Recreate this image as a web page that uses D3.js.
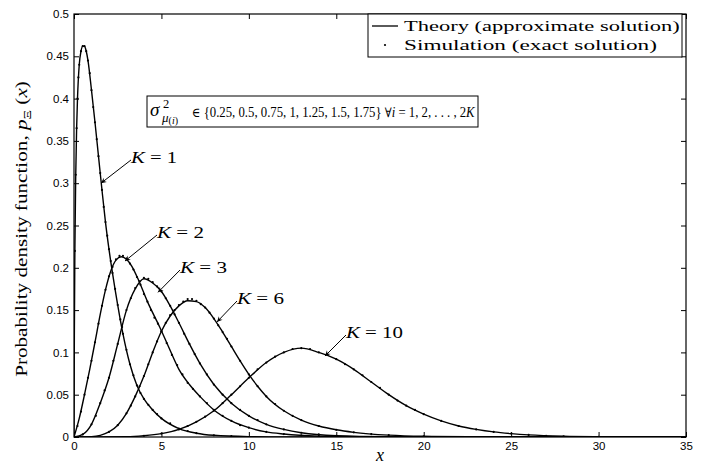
<!DOCTYPE html>
<html><head><meta charset="utf-8">
<script src="https://cdn.jsdelivr.net/npm/d3@7"></script>
<style>body{margin:0;background:#fff}svg{display:block}</style>
</head><body>
<svg id="c" width="711" height="464"></svg>
<script>
// ---------------- data ----------------
const xTicks = [0, 5, 10, 15, 20, 25, 30, 35];
const yTicks = [0, 0.05, 0.1, 0.15, 0.2, 0.25, 0.3, 0.35, 0.4, 0.45, 0.5];
const yTickLabels = ["0", "0.05", "0.1", "0.15", "0.2", "0.25", "0.3", "0.35", "0.4", "0.45", "0.5"];
const xTickLabels = ["0", "5", "10", "15", "20", "25", "30", "35"];

const legendLabels = ["Theory (approximate solution)", "Simulation (exact solution)"];
const kNames = ["1", "2", "3", "6", "10"];
// annotation arrows (data coordinates): head on curve, label anchor
const kHeadX = [1.544, 2.917, 4.804, 8.178, 14.354];
const kHeadY = [0.300, 0.208, 0.171, 0.136, 0.0957];
const kTextX = [3.26, 4.747, 6.062, 9.322, 15.555];
const kTextY = [0.331, 0.2423, 0.2009, 0.1643, 0.1241];

const theoryK1 = [[0,0],[0.02,0.12],[0.05,0.22],[0.1,0.31],[0.15,0.365],[0.2,0.4],[0.3,0.44],[0.4,0.456],[0.5,0.462],[0.6,0.462],[0.7,0.456],[0.8,0.445],[1.0,0.41],[1.2,0.372],[1.4,0.332],[1.6,0.292],[1.8,0.254],[2.0,0.222],[2.2,0.194],[2.5,0.156],[2.8,0.122],[3.2,0.086],[3.6,0.061],[4.0,0.045],[4.5,0.032],[5,0.022],[6,0.01],[7,0.0045],[8,0.002],[10,0.0004],[12,0],[35,0]];
const theoryK2 = [[0,0],[0.3,0.022],[0.6,0.05],[0.9,0.08],[1.2,0.112],[1.5,0.145],[1.8,0.174],[2.1,0.196],[2.4,0.209],[2.7,0.213],[3.0,0.21],[3.3,0.202],[3.7,0.185],[4.2,0.16],[4.9,0.13],[5.4,0.107],[6.0,0.08],[6.6,0.062],[7.2,0.048],[8.0,0.032],[9.0,0.019],[10,0.011],[11,0.006],[12,0.0035],[14,0.001],[16,0.0003],[20,0],[35,0]];
const theoryK3 = [[0,0],[0.5,0.003],[1,0.015],[1.5,0.04],[2,0.07],[2.5,0.11],[3,0.15],[3.5,0.175],[4,0.187],[4.5,0.182],[5,0.172],[5.5,0.155],[6,0.135],[6.6,0.11],[7.2,0.087],[8,0.062],[9,0.04],[10,0.025],[11,0.015],[12,0.009],[13,0.005],[15,0.0015],[18,0.0003],[22,0],[35,0]];
const theoryK6 = [[0,0],[1,0.0005],[1.5,0.002],[2,0.006],[2.5,0.014],[3,0.028],[3.5,0.048],[4,0.072],[4.5,0.1],[5,0.125],[5.5,0.143],[6,0.155],[6.5,0.161],[7,0.16],[7.5,0.153],[8,0.14],[8.5,0.124],[9,0.107],[9.5,0.09],[10,0.074],[10.5,0.06],[11,0.048],[12,0.031],[13,0.02],[14,0.013],[15,0.0085],[16,0.0055],[18,0.0022],[20,0.0008],[23,0.0002],[26,0],[35,0]];
const theoryK10 = [[0,0],[3,0.0003],[4,0.0015],[5,0.004],[6,0.009],[7,0.018],[8,0.031],[9,0.05],[10,0.07],[11,0.088],[12,0.1],[13,0.105],[14,0.1],[15,0.092],[16,0.08],[17,0.065],[18,0.05],[19,0.037],[20,0.027],[21,0.019],[22,0.013],[23,0.009],[24,0.006],[25,0.004],[26,0.0025],[28,0.0009],[30,0.0003],[33,0],[35,0]];

const simK1 = [[0.05,0.22],[0.1,0.31],[0.15,0.365],[0.2,0.4],[0.25,0.425],[0.3,0.44],[0.4,0.456],[0.5,0.462],[0.6,0.462],[0.7,0.456],[0.8,0.445],[0.9,0.43],[1.0,0.41],[1.1,0.39],[1.2,0.372],[1.3,0.352],[1.4,0.332],[1.5,0.312],[1.6,0.292],[1.7,0.272],[1.8,0.254],[1.9,0.238],[2.0,0.222],[2.1,0.208],[2.2,0.194],[2.35,0.175],[2.5,0.156],[2.65,0.139],[2.8,0.122],[3.0,0.103],[3.2,0.086],[3.4,0.073],[3.6,0.061],[3.8,0.052],[4.0,0.045],[4.25,0.038],[4.5,0.032],[4.75,0.027],[5,0.022],[5.5,0.016],[6,0.01],[6.5,0.007],[7,0.0045],[8,0.002],[9,0.001]];
const simK2 = [[0.2,0.013],[0.4,0.03],[0.6,0.05],[0.8,0.07],[1.0,0.09],[1.2,0.112],[1.4,0.134],[1.6,0.155],[1.8,0.174],[2.0,0.19],[2.2,0.201],[2.4,0.21],[2.6,0.214],[2.8,0.214],[3.0,0.211],[3.2,0.205],[3.4,0.198],[3.6,0.189],[3.8,0.18],[4.0,0.169],[4.2,0.16],[4.4,0.15],[4.6,0.141],[4.8,0.134],[5.0,0.125],[5.3,0.111],[5.6,0.097],[5.9,0.085],[6.2,0.074],[6.5,0.064],[6.8,0.057],[7.2,0.048],[7.6,0.04],[8.0,0.032],[8.5,0.025],[9,0.019],[9.5,0.014],[10,0.011],[11,0.006],[12,0.0035],[13,0.002],[14,0.001]];
const simK3 = [[0.5,0.003],[1.0,0.015],[1.25,0.025],[1.5,0.04],[1.75,0.055],[2.0,0.07],[2.25,0.09],[2.5,0.11],[2.75,0.13],[3.0,0.15],[3.25,0.164],[3.5,0.176],[3.75,0.184],[4.0,0.188],[4.25,0.187],[4.5,0.183],[4.75,0.178],[5.0,0.172],[5.25,0.164],[5.5,0.155],[5.75,0.145],[6.0,0.135],[6.3,0.122],[6.6,0.11],[6.9,0.098],[7.2,0.087],[7.6,0.074],[8.0,0.062],[8.5,0.05],[9,0.04],[9.5,0.032],[10,0.025],[10.5,0.02],[11,0.015],[12,0.009],[13,0.005],[14,0.003],[15,0.0015]];
const simK6 = [[2.0,0.006],[2.5,0.014],[3.0,0.028],[3.25,0.037],[3.5,0.048],[3.75,0.06],[4.0,0.072],[4.25,0.086],[4.5,0.1],[4.75,0.113],[5.0,0.125],[5.25,0.135],[5.5,0.144],[5.75,0.15],[6.0,0.156],[6.25,0.16],[6.5,0.163],[6.75,0.163],[7.0,0.161],[7.25,0.157],[7.5,0.153],[7.75,0.147],[8.0,0.14],[8.25,0.132],[8.5,0.124],[8.75,0.116],[9.0,0.107],[9.5,0.09],[10,0.074],[10.5,0.06],[11,0.048],[11.5,0.039],[12,0.031],[12.5,0.025],[13,0.02],[14,0.013],[15,0.0085],[16,0.0055],[17,0.0035],[18,0.0022],[20,0.0008]];
const simK10 = [[4,0.0015],[5,0.004],[6,0.009],[6.5,0.013],[7,0.018],[7.5,0.024],[8,0.031],[8.5,0.04],[9,0.05],[9.5,0.06],[10,0.07],[10.5,0.08],[11,0.088],[11.5,0.095],[12,0.1],[12.5,0.104],[13,0.105],[13.5,0.104],[14,0.1],[14.5,0.097],[15,0.092],[15.5,0.086],[16,0.08],[16.5,0.073],[17,0.065],[17.5,0.058],[18,0.05],[18.5,0.043],[19,0.037],[19.5,0.032],[20,0.027],[21,0.019],[22,0.013],[23,0.009],[24,0.006],[25,0.004],[26,0.0025],[27,0.0015],[28,0.0009],[30,0.0003]];

const theorySeries = [theoryK1, theoryK2, theoryK3, theoryK6, theoryK10];
const simSeries = [simK1, simK2, simK3, simK6, simK10];

// ---------------- layout ----------------
const W = 711, H = 464;
const L = 74, R = 686, T = 14, B = 437;
const serif = "'Liberation Serif','Times New Roman',serif";
const symf = "'DejaVu Serif','DejaVu Sans',serif";
const sans = "'Liberation Sans',Arial,Helvetica,sans-serif";

const svg = d3.select("#c");
svg.append("rect").attr("width", W).attr("height", H).attr("fill", "#fff");

const x = d3.scaleLinear().domain([0, 35]).range([L, R]);
const y = d3.scaleLinear().domain([0, 0.5]).range([B, T]);

svg.append("clipPath").attr("id", "clip").append("rect")
  .attr("x", L).attr("y", T - 1).attr("width", R - L).attr("height", B - T + 1);

// axes
function styleAxis(g) {
  g.select(".domain").remove();
  g.selectAll("line").attr("stroke", "#000").attr("stroke-width", 1);
  g.selectAll("text").attr("font-family", sans).attr("font-size", 11.5).attr("fill", "#000");
}
svg.append("g").attr("transform", `translate(0,${B})`)
  .call(d3.axisBottom(x).tickValues(xTicks).tickFormat((d, i) => xTickLabels[i]).tickSizeInner(-5).tickSizeOuter(0).tickPadding(5))
  .call(styleAxis);
svg.append("g").attr("transform", `translate(${L},0)`)
  .call(d3.axisLeft(y).tickValues(yTicks).tickFormat((d, i) => yTickLabels[i]).tickSizeInner(-5).tickSizeOuter(0).tickPadding(5))
  .call(styleAxis);
svg.append("g").attr("transform", `translate(0,${T})`)
  .call(d3.axisTop(x).tickValues(xTicks).tickFormat("").tickSizeInner(-5).tickSizeOuter(0))
  .call(styleAxis);
svg.append("g").attr("transform", `translate(${R},0)`)
  .call(d3.axisRight(y).tickValues(yTicks).tickFormat("").tickSizeInner(-5).tickSizeOuter(0))
  .call(styleAxis);

// curves
const plot = svg.append("g").attr("clip-path", "url(#clip)");
const line = d3.line().x(d => x(d[0])).y(d => y(d[1])).curve(d3.curveMonotoneX);
plot.selectAll("path.theory").data(theorySeries).join("path")
  .attr("class", "theory").attr("d", line)
  .attr("fill", "none").attr("stroke", "#000").attr("stroke-width", 1.4);
simSeries.forEach(s => {
  plot.append("g").selectAll("circle").data(s).join("circle")
    .attr("cx", d => x(d[0])).attr("cy", d => y(d[1])).attr("r", 1.1).attr("fill", "#000");
});

// frame
svg.append("rect").attr("x", L).attr("y", T).attr("width", R - L).attr("height", B - T)
  .attr("fill", "none").attr("stroke", "#000").attr("stroke-width", 1.2);

// stretch a text horizontally (along its own baseline) to a target width
function placeStretched(sel, w, tx, ty, rot) {
  const len = sel.node().getComputedTextLength();
  const k = w / len;
  sel.attr("transform", `translate(${tx},${ty})` + (rot ? ` rotate(${rot})` : "") + ` scale(${k},1)`);
}

// y label
const yl = svg.append("text").attr("x", 0).attr("y", 0)
  .attr("text-anchor", "middle").attr("font-family", serif).attr("font-size", 16).attr("fill", "#000");
yl.append("tspan").text("Probability density function, ");
yl.append("tspan").attr("font-style", "italic").text("p");
yl.append("tspan").attr("font-size", "70%").attr("dy", 4).text("Ξ");
yl.append("tspan").attr("dy", -4).text(" (");
yl.append("tspan").attr("font-style", "italic").text("x");
yl.append("tspan").text(")");
placeStretched(yl, 296, 27, 229, -90);

// x label
svg.append("text").attr("x", (L + R) / 2).attr("y", 461).attr("text-anchor", "middle")
  .attr("font-family", serif).attr("font-style", "italic").attr("font-size", 18).text("x");

// legend
const lg = svg.append("g");
lg.append("rect").attr("x", 368).attr("y", T).attr("width", 314).attr("height", 43)
  .attr("fill", "#fff").attr("stroke", "#000").attr("stroke-width", 1);
lg.append("line").attr("x1", 372).attr("x2", 398).attr("y1", 26).attr("y2", 26)
  .attr("stroke", "#000").attr("stroke-width", 1.3);
lg.append("circle").attr("cx", 385).attr("cy", 45).attr("r", 1.1).attr("fill", "#000");
const lt1 = lg.append("text").attr("x", 0).attr("y", 0).attr("font-family", serif).attr("font-size", 15.5).text(legendLabels[0]);
placeStretched(lt1, 276, 404, 31);
const lt2 = lg.append("text").attr("x", 0).attr("y", 0).attr("font-family", serif).attr("font-size", 15.5).text(legendLabels[1]);
placeStretched(lt2, 253, 404, 50);

// annotation box
const ab = svg.append("g");
ab.append("rect").attr("x", 147).attr("y", 96).attr("width", 331).attr("height", 31)
  .attr("fill", "#fff").attr("stroke", "#000").attr("stroke-width", 1);
ab.append("text").attr("x", 150).attr("y", 116).attr("font-family", serif).attr("font-style", "italic").attr("font-size", 19).text("σ");
ab.append("text").attr("x", 163).attr("y", 108).attr("font-family", serif).attr("font-size", 12.5).text("2");
const sub = ab.append("text").attr("x", 162).attr("y", 122).attr("font-family", serif).attr("font-size", 13);
sub.append("tspan").attr("font-style", "italic").text("μ");
sub.append("tspan").attr("font-size", 10).attr("dy", 2).text("(");
sub.append("tspan").attr("font-size", 10).attr("font-style", "italic").text("i");
sub.append("tspan").attr("font-size", 10).text(")");
const main = ab.append("text").attr("x", 0).attr("y", 0).attr("font-family", serif).attr("font-size", 15);
main.append("tspan").attr("font-family", symf).attr("font-size", 13.5).text("∈");
main.append("tspan").text(" {0.25, 0.5, 0.75, 1, 1.25, 1.5, 1.75} ");
main.append("tspan").attr("font-family", symf).attr("font-size", 13.5).text("∀");
main.append("tspan").attr("font-style", "italic").text("i");
main.append("tspan").text(" = 1, 2, . . . , 2");
main.append("tspan").attr("font-style", "italic").text("K");
placeStretched(main, 283, 192, 117);

// K labels with arrows
const kWidths = [46, 47, 47, 47, 57];
kNames.forEach((k, i) => {
  const hx = x(kHeadX[i]), hy = y(kHeadY[i]);
  const tx = x(kTextX[i]), ty = y(kTextY[i]);
  const sx = tx, sy = ty + 3;
  svg.append("line").attr("x1", sx).attr("y1", sy).attr("x2", hx).attr("y2", hy)
    .attr("stroke", "#000").attr("stroke-width", 1);
  const ang = Math.atan2(hy - sy, hx - sx);
  const hl = 6, hw = 0.45;
  const p1 = [hx - hl * Math.cos(ang - hw), hy - hl * Math.sin(ang - hw)];
  const p2 = [hx - hl * Math.cos(ang + hw), hy - hl * Math.sin(ang + hw)];
  const pm = [hx - hl * 0.6 * Math.cos(ang), hy - hl * 0.6 * Math.sin(ang)];
  svg.append("path").attr("d", `M${p1}L${hx},${hy}L${p2}L${pm}Z`).attr("fill", "#000");
  const t = svg.append("text").attr("x", 0).attr("y", 0).attr("font-family", serif).attr("font-size", 17);
  t.append("tspan").attr("font-style", "italic").text("K");
  t.append("tspan").text(" = " + k);
  placeStretched(t, kWidths[i], tx, ty + 6);
});
</script>
</body></html>
